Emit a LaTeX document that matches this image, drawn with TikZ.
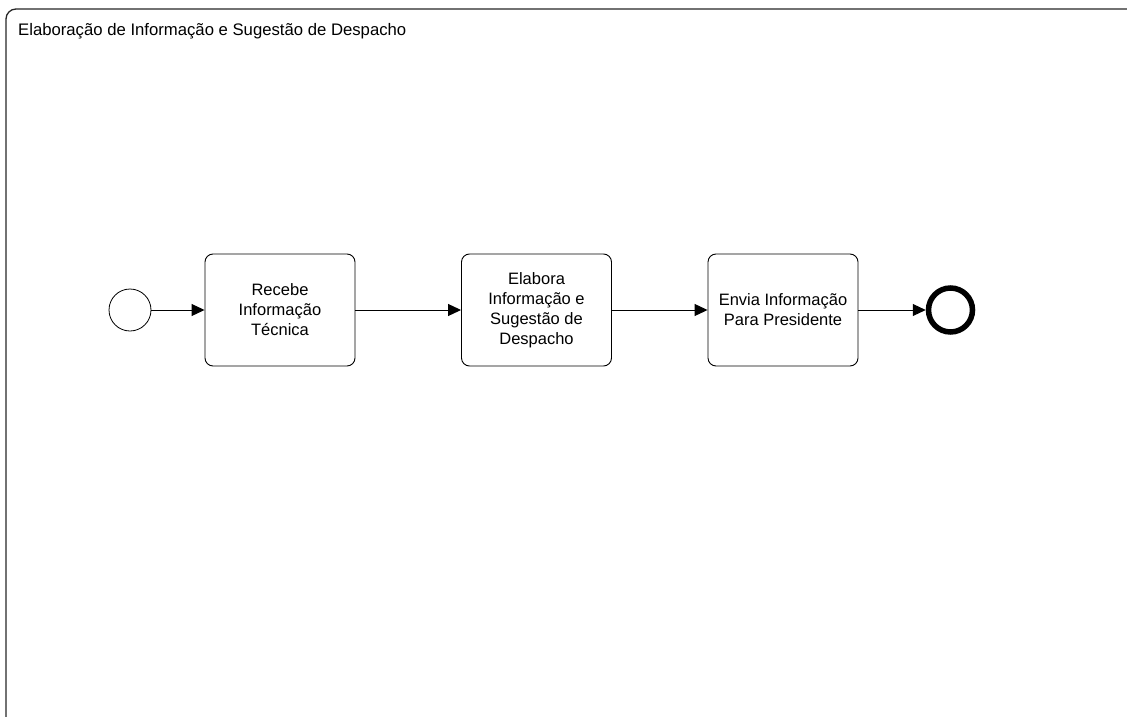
\documentclass[tikz,border=0pt]{standalone}
\usepackage{fontspec}
\setmainfont{Liberation Sans}
\usetikzlibrary{arrows.meta}
\begin{document}
\begin{tikzpicture}[x=1pt,y=-1pt,
  task/.style={draw=black, line width=0.9pt, rounded corners=8pt, minimum width=150pt, minimum height=112pt, align=center, inner sep=0pt, font=\fontsize{16.5}{20}\selectfont},
  startev/.style={circle, draw=black, line width=0.8pt, minimum size=42pt, inner sep=0pt},
  endev/.style={circle, draw=black, line width=5.5pt, minimum size=44pt, inner sep=0pt},
  flow/.style={line width=1pt, -{Triangle[length=13pt,width=12pt]}}]
  \useasboundingbox (0,0) rectangle (1127,717);
  % pool frame, open on the right and bottom
  \draw[line width=1.3pt, draw=black!85, rounded corners=10pt] (6,717) -- (6,9) -- (1127,9);
  \node[anchor=base west, font=\fontsize{16.7}{20}\selectfont, inner sep=0pt] (title) at (18,36) {Elaboração de Informação e Sugestão de Despacho};
  % process
  \node[startev] (start) at (130,310) {};
  \node[task] (t1) at (280,310) {Recebe\\Informação\\Técnica};
  \node[task] (t2) at (536.5,310) {Elabora\\Informação e\\Sugestão de\\Despacho};
  \node[task] (t3) at (783,310) {Envia Informação\\Para Presidente};
  \node[endev] (end) at (950.5,310) {};
  \draw[flow] (start) -- (t1);
  \draw[flow] (t1) -- (t2);
  \draw[flow] (t2) -- (t3);
  \draw[flow] (t3) -- (end);
\end{tikzpicture}
\end{document}
